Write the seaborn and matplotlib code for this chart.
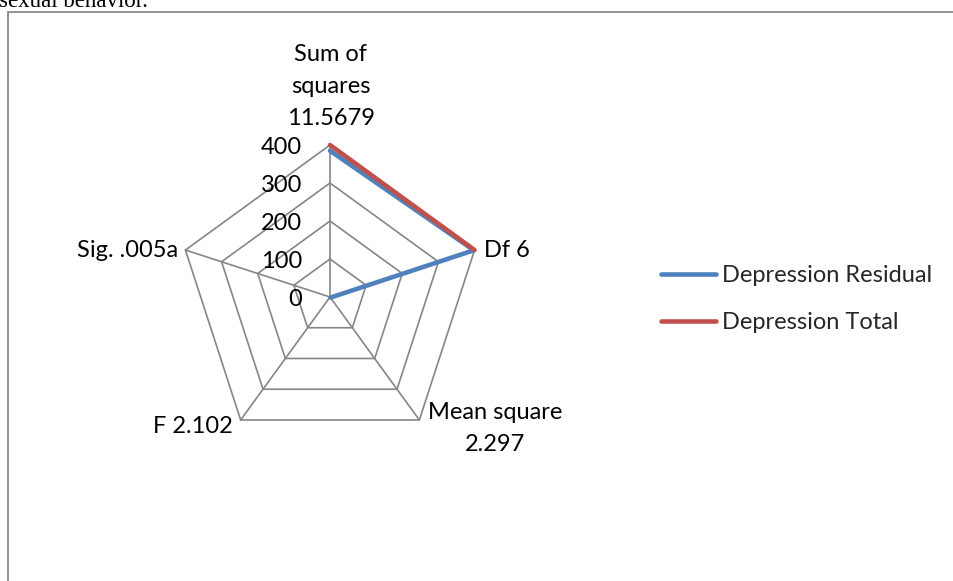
import numpy as np
import pandas as pd
import matplotlib
matplotlib.use("Agg")
import matplotlib.pyplot as plt
import seaborn as sns
from matplotlib.lines import Line2D
from matplotlib.patches import Rectangle

# --- data -------------------------------------------------------------
categories = ["Sum of\nsquares\n11.5679", "Df 6", "Mean square\n2.297", "F 2.102", "Sig. .005a"]
residual = [385, 398, 2, np.nan, np.nan]
total = [400, 400, np.nan, np.nan, np.nan]
series_names = ["Depression Residual", "Depression Total"]
series_colors = ["#4F81BD", "#C0504D"]
r_ticks = [0, 100, 200, 300, 400]

sns.set_theme(style="white")
plt.rcParams["font.family"] = ["Lato", "DejaVu Sans"]

W, H = 954, 581
fig = plt.figure(figsize=(W / 100, H / 100), dpi=100)
fig.patch.set_facecolor("white")

# radar centre and radius in pixels
cx, cy, rad = 330, 297, 152
ax = fig.add_axes([(cx - rad) / W, (H - cy - rad) / H, 2 * rad / W, 2 * rad / H],
                  projection="polar")
ax.set_theta_zero_location("N")
ax.set_theta_direction(-1)
ax.set_ylim(0, r_ticks[-1])
ax.grid(False)
ax.spines["polar"].set_visible(False)
ax.set_xticks([])
ax.set_yticks([])
ax.patch.set_alpha(0)

n = len(categories)
theta = np.arange(n) * 2 * np.pi / n
theta_closed = np.append(theta, theta[0])

grid_col = "#868686"
for r in r_ticks[1:]:
    ax.plot(theta_closed, [r] * (n + 1), color=grid_col, lw=1.2, zorder=1, clip_on=False)
for t in theta:
    ax.plot([t, t], [0, r_ticks[-1]], color=grid_col, lw=1.2, zorder=1, clip_on=False)

# series
rows = []
for name, vals in zip(series_names, [residual, total]):
    for t, v in zip(theta, vals):
        if not np.isnan(v):
            rows.append({"theta": t, "value": v, "series": name})
df = pd.DataFrame(rows)
sns.lineplot(data=df, x="theta", y="value", hue="series", hue_order=series_names,
             palette=series_colors, sort=False, estimator=None, lw=3.3,
             legend=False, ax=ax)
for ln in ax.lines[-2:]:
    ln.set_clip_on(False)
    ln.set_solid_capstyle("round")
    ln.set_solid_joinstyle("round")
    ln.set_zorder(3)
ax.set_xlabel("")
ax.set_ylabel("")

fs = 17
# radial tick labels
for v in r_ticks:
    ax.annotate(str(v), (0, v), xytext=(-28, -2), textcoords="offset pixels",
                ha="right", va="center", fontsize=fs, color="black", annotation_clip=False)

# category labels
label_cfg = [
    dict(xytext=(1, 16), ha="center", va="bottom"),
    dict(xytext=(9, 0), ha="left", va="center"),
    dict(xytext=(76, -9), ha="center", va="center"),
    dict(xytext=(-8, -7), ha="right", va="center"),
    dict(xytext=(-7, 0), ha="right", va="center"),
]
for t, lab, cfg in zip(theta, categories, label_cfg):
    ax.annotate(lab, (t, r_ticks[-1]), textcoords="offset pixels", fontsize=fs,
                color="black", linespacing=1.65, multialignment="center",
                annotation_clip=False, **cfg)

# legend
handles = [Line2D([0], [0], color=c, lw=3.3, solid_capstyle="round") for c in series_colors]
fig.legend(handles, series_names, loc="center left",
           bbox_to_anchor=(661 / W, 1 - 299 / H), frameon=False, fontsize=fs,
           handlelength=2.35, handletextpad=0.22, labelspacing=1.1,
           borderpad=0, borderaxespad=0)

# chart area border
fig.patches.append(Rectangle((8.5 / W, -0.2), 1.5, 1 - 11.5 / H + 0.2,
                             transform=fig.transFigure, fill=False,
                             edgecolor="#8a8a8a", lw=1.3))

# document text above the chart
fig.text(-1 / W, 1 - 7 / H, "sexual behavior.", family="Liberation Serif",
         fontsize=16.5, va="baseline", ha="left", color="black")

fig.savefig("out.png", dpi=100)
